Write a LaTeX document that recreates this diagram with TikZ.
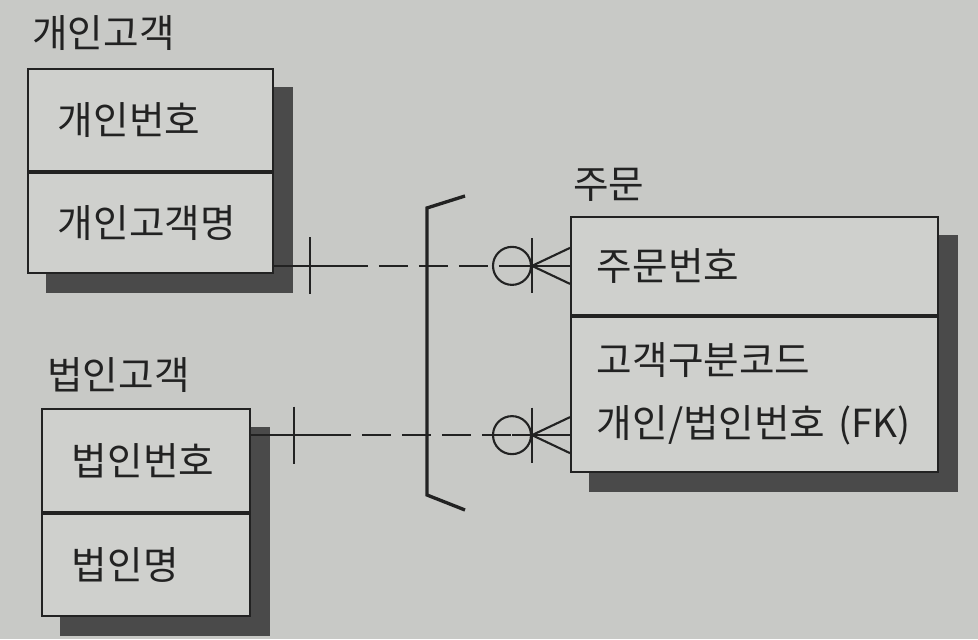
\documentclass[tikz,border=0pt]{standalone}
\usepackage{fontspec}
\newfontfamily\kofont{Noto Sans CJK KR}
\usetikzlibrary{positioning,backgrounds}
\definecolor{erBg}   {RGB}{200,201,198}
\definecolor{erBox}  {RGB}{207,208,205}
\definecolor{erShade}{RGB}{ 74, 74, 74}
\definecolor{erInk}  {RGB}{ 34, 34, 34}

\begin{document}
\begin{tikzpicture}[
  font=\kofont\fontsize{22}{26}\selectfont,
  part/.style={rectangle,draw=erInk,line width=1pt,fill=erBox,
               text=erInk,anchor=north west,align=left,
               inner xsep=6mm,inner ysep=0pt},
  boxshade/.style={fill=erShade},
  title/.style={anchor=west,inner sep=0pt,text=erInk},
  relline/.style={draw=erInk,line width=1.2pt},
  reldash/.style={dash pattern=on 5.8mm off 2.2mm},
  optring/.style={circle,draw=erInk,line width=1.2pt,
                  minimum size=7.6mm,inner sep=0pt},
  exarc/.style={draw=erInk,line width=1.9pt}
]
% page: 978 x 639 px at 0.02cm per px
\useasboundingbox (0,0) rectangle (19.56,12.78);

% --- 개인고객
\node[part,text width=37mm,minimum height=20.4mm] (indKey) at (0.54,11.42) {개인번호};
\node[part,text width=37mm,minimum height=20mm,below=0pt of indKey] (indAttr) {개인고객명};
\node[title] (indTitle) at ([xshift=1mm,yshift=7mm]indKey.north west) {개인고객};

% --- 법인고객
\node[part,text width=29.6mm,minimum height=20.6mm] (corpKey) at (0.82,4.62) {법인번호};
\node[part,text width=29.6mm,minimum height=20.4mm,below=0pt of corpKey] (corpAttr) {법인명};
\node[title] (corpTitle) at ([xshift=1.2mm,yshift=6.6mm]corpKey.north west) {법인고객};

% --- 주문
\node[part,text width=63mm,minimum height=19.6mm,inner xsep=5.2mm] (ordKey) at (11.40,8.46) {주문번호};
\node[part,text width=63mm,minimum height=31mm,inner xsep=5.2mm,below=0pt of ordKey] (ordAttr)
     {고객구분코드\\[10pt]개인/법인번호 (FK)};
\node[title] (ordTitle) at ([xshift=0.6mm,yshift=6.2mm]ordKey.north west) {주문};

% shadows behind the entities
\begin{scope}[on background layer]
  \fill[erBg] (0,0) rectangle (19.56,12.78);
  \foreach \top/\bot in {indKey/indAttr, corpKey/corpAttr, ordKey/ordAttr}
    \fill[boxshade] ([shift={(3.8mm,-3.8mm)}]\bot.south west)
                    rectangle ([shift={(3.8mm,-3.8mm)}]\top.north east);
\end{scope}

% --- relationships
\coordinate (ordEnd) at (ordKey.west);
\coordinate (indEnd) at (indAttr.east |- ordEnd);
\coordinate (fkEnd) at ([yshift=-8.2mm]ordAttr.west);
\coordinate (corpEnd) at (corpKey.east |- fkEnd);

\foreach \src/\dst/\barx/\solid in {indEnd/ordEnd/7.2mm/13mm, corpEnd/fkEnd/8.6mm/14.2mm}{
  \node[optring] (ring\src) at ([xshift=-11.6mm]\dst) {};
  \draw[relline] (\src) -- ([xshift=\solid]\src);
  \draw[relline,reldash] ([xshift=\solid]\src) -- (ring\src.center);
  \draw[relline] (ring\src.center) -- (\dst);
  \draw[relline] ([shift={(\barx,5.7mm)}]\src) -- ([shift={(\barx,-5.7mm)}]\src);
  \draw[relline] ([shift={(-7.6mm,5.5mm)}]\dst) -- ([shift={(-7.6mm,-5.5mm)}]\dst);
  \draw[relline] ([yshift=3.6mm]\dst) -- ([xshift=-7.6mm]\dst) -- ([yshift=-3.6mm]\dst);
}

% exclusive arc
\draw[exarc] (9.30,8.86) -- (8.54,8.62) -- (8.54,2.88) -- (9.30,2.58);
\end{tikzpicture}
\end{document}
